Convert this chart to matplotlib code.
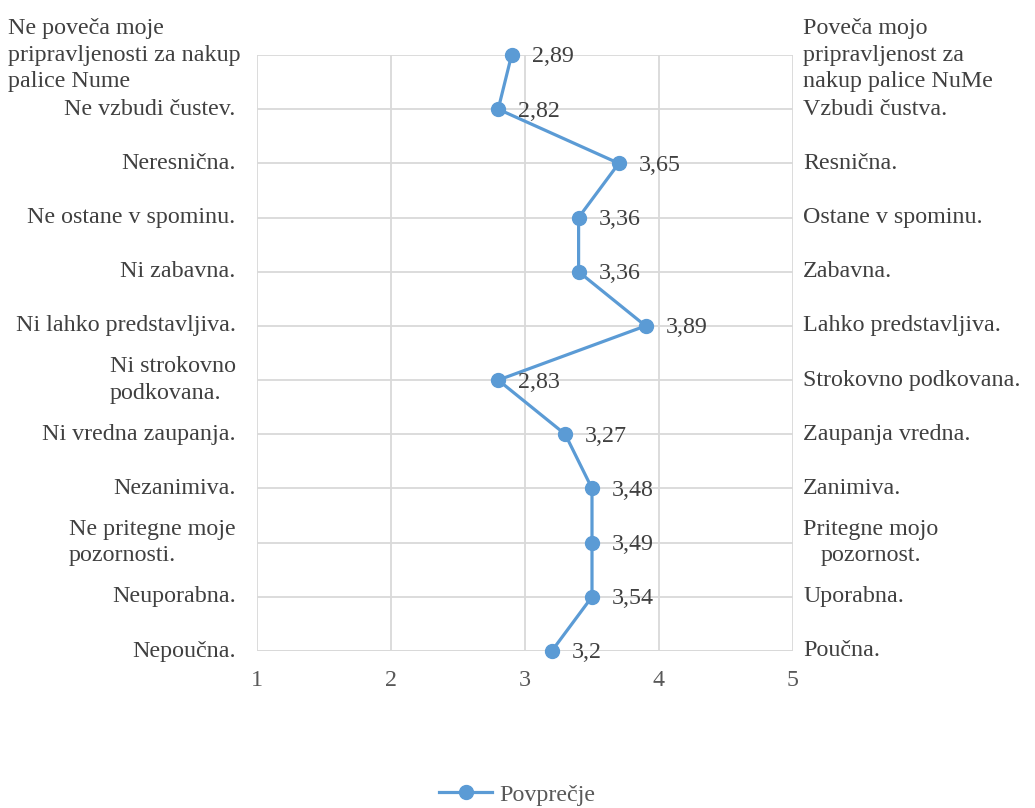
import numpy as np
import matplotlib.pyplot as plt

plt.rcParams['font.family'] = ['Liberation Serif', 'DejaVu Serif']

# Data
left_labels = ['Ne poveča moje\npripravljenosti za nakup\npalice Nume',
               'Ne vzbudi čustev.', 'Neresnična.', 'Ne ostane v spominu.',
               'Ni zabavna.', 'Ni lahko predstavljiva.', 'Ni strokovno\npodkovana.',
               'Ni vredna zaupanja.', 'Nezanimiva.', 'Ne pritegne moje\npozornosti.',
               'Neuporabna.', 'Nepoučna.']
right_labels = ['Poveča mojo\npripravljenost za\nnakup palice NuMe',
                'Vzbudi čustva.', 'Resnična.', 'Ostane v spominu.',
                'Zabavna.', 'Lahko predstavljiva.', 'Strokovno podkovana.',
                'Zaupanja vredna.', 'Zanimiva.', 'Pritegne mojo\npozornost.',
                'Uporabna.', 'Poučna.']
# values as shown in the data labels
means = [2.89, 2.82, 3.65, 3.36, 3.36, 3.89, 2.83, 3.27, 3.48, 3.49, 3.54, 3.2]
# point positions as drawn (one decimal)
plotted = [2.9, 2.8, 3.7, 3.4, 3.4, 3.9, 2.8, 3.3, 3.5, 3.5, 3.5, 3.2]
xticks = [1, 2, 3, 4, 5]

text_col = '#404040'
blue = '#5b9bd5'
fs = 17.3

fig = plt.figure(figsize=(10.35, 8.08), dpi=100)
ax = fig.add_axes([257/1035, 1-651/808, 536/1035, 596/808])

rows = np.arange(len(means))
ax.plot(plotted, rows, color=blue, linewidth=2.3, marker='o', markersize=10,
        label='Povprečje', zorder=3, clip_on=False)

for x, y, v in zip(plotted, rows, means):
    ax.annotate(('%g' % v).replace('.', ','), (x, y), xytext=(20, -2),
                textcoords='offset pixels', ha='left', va='center',
                fontsize=fs, color=text_col)

ax.set_xlim(1, 5)
ax.set_ylim(11, 0)
ax.set_xticks(xticks)
ax.set_xticklabels([str(t) for t in xticks], fontsize=fs, color='#595959')
ax.set_yticks(rows)
ax.set_yticklabels([])
ax.tick_params(length=0, pad=14)
ax.grid(True, color='#d9d9d9', linewidth=1.3)
ax.set_axisbelow(True)
for s in ax.spines.values():
    s.set_visible(False)
ax.axhline(11, color='#d9d9d9', linewidth=1.3, zorder=1)

# category labels on both sides
trans = ax.get_yaxis_transform()
for i in rows:
    lbl = left_labels[i]
    off = -0.03 if i == 0 else -0.04
    ax.text(off, i, lbl, transform=trans, ha='right', va='center',
            multialignment='left', fontsize=fs, color=text_col, linespacing=1.35)
    rl = right_labels[i]
    ma = 'center' if i == 9 else 'left'
    ax.text(1.019, i, rl, transform=trans, ha='left', va='center',
            multialignment=ma, fontsize=fs, color=text_col, linespacing=1.35)

fig.legend(loc='lower center', bbox_to_anchor=(0.5, -0.024), frameon=False,
           fontsize=fs, handlelength=2.2, handletextpad=0.3, labelcolor='#595959')

plt.savefig('out.png', dpi=100)
